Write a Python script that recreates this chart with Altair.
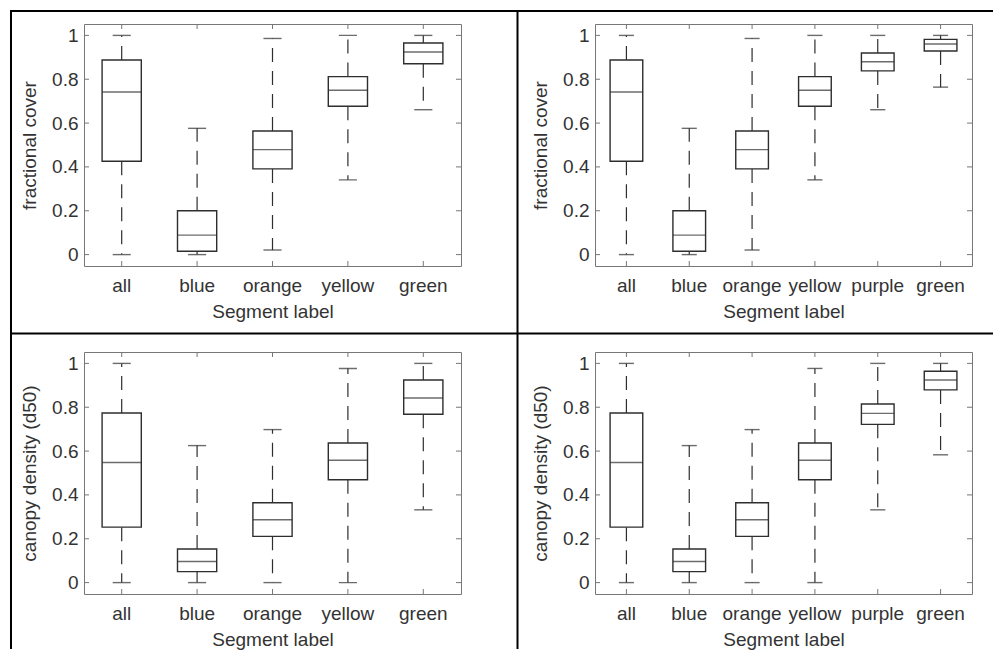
import altair as alt
import pandas as pd

cats5 = ["all", "blue", "orange", "yellow", "green"]
cats6 = ["all", "blue", "orange", "yellow", "purple", "green"]

# fractional cover
fc5_low = [0.0, 0.0, 0.021, 0.341, 0.661]
fc5_q1 = [0.426, 0.015, 0.391, 0.677, 0.871]
fc5_med = [0.742, 0.089, 0.479, 0.750, 0.924]
fc5_q3 = [0.888, 0.200, 0.564, 0.812, 0.965]
fc5_high = [1.0, 0.576, 0.986, 1.0, 1.0]

fc6_low = [0.0, 0.0, 0.021, 0.341, 0.661, 0.764]
fc6_q1 = [0.426, 0.015, 0.391, 0.677, 0.838, 0.929]
fc6_med = [0.742, 0.089, 0.479, 0.750, 0.880, 0.961]
fc6_q3 = [0.888, 0.200, 0.564, 0.812, 0.920, 0.982]
fc6_high = [1.0, 0.576, 0.986, 1.0, 1.0, 1.0]

# canopy density (d50)
cd5_low = [0.0, 0.0, 0.0, 0.0, 0.332]
cd5_q1 = [0.253, 0.050, 0.211, 0.469, 0.768]
cd5_med = [0.548, 0.096, 0.287, 0.558, 0.842]
cd5_q3 = [0.774, 0.153, 0.364, 0.637, 0.924]
cd5_high = [1.0, 0.625, 0.698, 0.977, 1.0]

cd6_low = [0.0, 0.0, 0.0, 0.0, 0.332, 0.583]
cd6_q1 = [0.253, 0.050, 0.211, 0.469, 0.722, 0.879]
cd6_med = [0.548, 0.096, 0.287, 0.558, 0.772, 0.924]
cd6_q3 = [0.774, 0.153, 0.364, 0.637, 0.815, 0.964]
cd6_high = [1.0, 0.625, 0.698, 0.977, 1.0, 1.0]

yticks = [0, 0.2, 0.4, 0.6, 0.8, 1]

FONT = "Liberation Sans"
LINE = "#2e2e2e"
FRAME = "#777777"
TXT = "#333333"
W, H = 377, 242
TK = 5


def panel(cats, low, q1, med, q3, high, ytitle, borders=False):
    n = len(cats)
    step = W / n
    boxw = step * 0.52
    capw = step * 0.24
    df = pd.DataFrame({"label": cats, "low": low, "q1": q1, "med": med,
                       "q3": q3, "high": high})
    tdf = pd.DataFrame({"v": yticks})
    xs = alt.Scale(domain=cats, paddingInner=0.5, paddingOuter=0.25)
    ys = alt.Scale(domain=[-0.052, 1.052], nice=False, zero=False)
    xaxis = alt.Axis(title="Segment label", labelAngle=0, ticks=False, domain=False,
                     grid=False, labelPadding=10, labelBaseline="top",
                     titleY=51, titleBaseline="alphabetic")
    yaxis = alt.Axis(title=ytitle, values=yticks, format="~g", ticks=False,
                     domain=False, grid=False, labelPadding=6,
                     titleX=-55, titleY=H / 2, titleBaseline="middle")
    x = alt.X("label:N", scale=xs, axis=xaxis)

    def Y(f):
        return alt.Y(f, scale=ys, axis=yaxis)

    base = alt.Chart(df)
    layers = []
    # inward ticks
    layers.append(alt.Chart(tdf).mark_rule(color=FRAME).encode(
        y=Y("v:Q"), x=alt.value(0), x2=alt.value(TK)))
    layers.append(alt.Chart(tdf).mark_rule(color=FRAME).encode(
        y=Y("v:Q"), x=alt.value(W - TK), x2=alt.value(W)))
    layers.append(base.mark_rule(color=FRAME).encode(
        x=x, y=alt.value(H), y2=alt.value(H - TK)))
    layers.append(base.mark_rule(color=FRAME).encode(
        x=x, y=alt.value(0), y2=alt.value(TK)))
    # whiskers
    layers.append(base.mark_rule(color=LINE, strokeWidth=1.2, strokeDash=[14, 9]).encode(
        x=x, y=Y("q1:Q"), y2="low:Q"))
    layers.append(base.mark_rule(color=LINE, strokeWidth=1.2, strokeDash=[14, 9]).encode(
        x=x, y=Y("q3:Q"), y2="high:Q"))
    # boxes
    layers.append(base.mark_bar(fill="white", stroke=LINE, strokeWidth=1.4, size=boxw).encode(
        x=x, y=Y("q1:Q"), y2="q3:Q"))
    # medians
    layers.append(base.mark_tick(color=LINE, thickness=1.4, size=boxw).encode(
        x=x, y=Y("med:Q")))
    # caps
    layers.append(base.mark_tick(color=LINE, thickness=1.4, size=capw).encode(
        x=x, y=Y("low:Q")))
    layers.append(base.mark_tick(color=LINE, thickness=1.4, size=capw).encode(
        x=x, y=Y("high:Q")))

    if borders:
        dummy = alt.Chart(pd.DataFrame({"d": [0]}))
        lines = [
            dict(x=alt.value(-74), x2=alt.value(909), y=alt.value(-13)),
            dict(x=alt.value(-73), y=alt.value(-14), y2=alt.value(625)),
            dict(x=alt.value(433.5), y=alt.value(-14), y2=alt.value(625)),
            dict(x=alt.value(-74), x2=alt.value(909), y=alt.value(309.5)),
        ]
        for enc in lines:
            layers.append(dummy.mark_rule(color="black", strokeWidth=2).encode(**enc))

    return alt.layer(*layers).properties(width=W, height=H)


p1 = panel(cats5, fc5_low, fc5_q1, fc5_med, fc5_q3, fc5_high, "fractional cover", borders=True)
p2 = panel(cats6, fc6_low, fc6_q1, fc6_med, fc6_q3, fc6_high, "fractional cover")
p3 = panel(cats5, cd5_low, cd5_q1, cd5_med, cd5_q3, cd5_high, "canopy density (d50)")
p4 = panel(cats6, cd6_low, cd6_q1, cd6_med, cd6_q3, cd6_high, "canopy density (d50)")

chart = alt.concat(
    p1, p2, p3, p4, columns=2, spacing={"row": 86, "column": 134}, bounds="flush"
).properties(
    padding=0
).configure_view(
    stroke=FRAME, strokeWidth=1
).configure_axis(
    labelFont=FONT, titleFont=FONT, labelFontSize=19, titleFontSize=19,
    labelColor=TXT, titleColor=TXT, titleFontWeight="normal"
)

chart.save("out.html", embed_options={"renderer": "svg", "actions": False})
